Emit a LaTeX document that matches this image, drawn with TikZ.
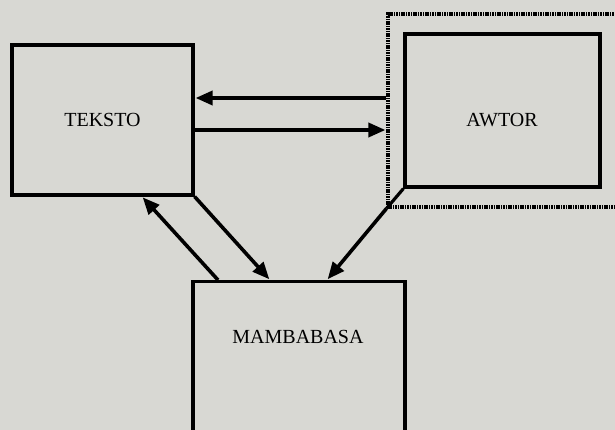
\documentclass[tikz,border=0pt]{standalone}
\usepackage{fontspec}
\setmainfont{Liberation Serif}
\usetikzlibrary{arrows.meta}
\definecolor{paper}{RGB}{216,216,211}

\begin{document}
\begin{tikzpicture}[x=1pt,y=-1pt,>/.tip={Triangle[length=17pt,width=14pt]},
	box/.style={draw,line width=3.2pt,shape=rectangle,inner sep=0pt},
	link/.style={->,line width=3.6pt,shorten >=1pt},
	font=\fontsize{20}{24}\selectfont]
	\useasboundingbox (0,0) rectangle (615,430);
	\clip (0,0) rectangle (615,430);
	\fill[paper] (0,0) rectangle (615,430);
	\draw (102.5,120) node (teksto) [box,minimum width=181pt,minimum height=150pt] {TEKSTO};
	\draw (515,110.5) node (frame) [box,line width=3.2pt,dash pattern=on 1.6pt off 0.8pt,minimum width=254pt,minimum height=193pt] {};
	\draw (502.5,110.5) node (awtor) [box,minimum width=195pt,minimum height=153pt] {};
	\node at (502,120) {AWTOR};
	\draw (299,280) node (mamba) [box,anchor=north,minimum width=212pt,minimum height=170pt] {};
	\node at (298,337) {MAMBABASA};
	\draw[line width=3.2pt] (awtor.south west) -- (frame.south west);
	\path[link] ([yshift=12.5pt]frame.west) edge ([yshift=22pt]teksto.east);
	\path[link] ([yshift=-10pt]teksto.east) edge ([yshift=-19.5pt]frame.west);
	\path[link] ([xshift=-81pt]mamba.north) edge ([xshift=39.5pt]teksto.south);
	\path[link] (teksto.south east) edge ([xshift=-29pt]mamba.north);
	\path[link] (frame.south west) edge ([xshift=28pt]mamba.north);
\end{tikzpicture}
\end{document}
